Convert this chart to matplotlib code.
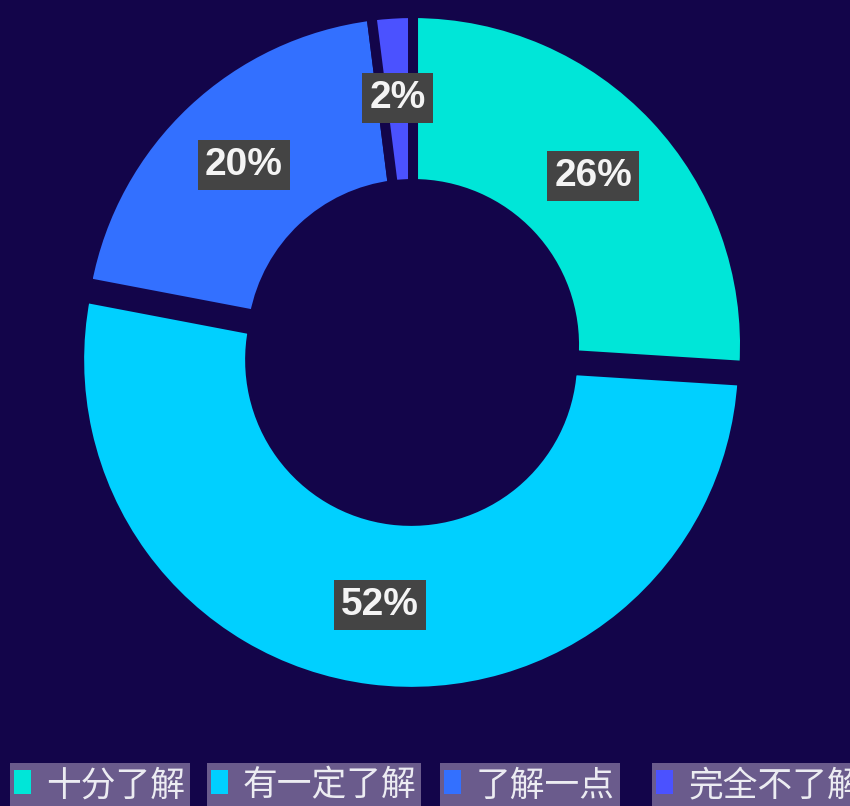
import matplotlib
matplotlib.use('Agg')
import matplotlib.pyplot as plt
from matplotlib.patches import Rectangle

plt.rcParams['font.family'] = ['Noto Sans CJK SC', 'DejaVu Sans']

categories = ['十分了解', '有一定了解', '了解一点', '完全不了解']
values = [26, 52, 20, 2]
colors = ['#00e6d8', '#00d0ff', '#3370ff', '#4b52ff']
explode = [0, 0.045, 0, 0]

bg = '#13054a'
W, H = 850, 806

fig = plt.figure(figsize=(W / 100, H / 100), dpi=100, facecolor=bg)

# donut
ax = fig.add_axes([0.0953, 0.16, 0.7812, 0.8238])
ax.set_facecolor(bg)
wedges, texts, autotexts = ax.pie(
    values, colors=colors, startangle=90, counterclock=False,
    explode=explode, radius=1.0, autopct='%1.0f%%', pctdistance=0.745,
    wedgeprops=dict(width=0.515, edgecolor=bg, linewidth=7.2),
)
for t in autotexts:
    t.set_family(['Liberation Sans', 'DejaVu Sans'])
    t.set_fontsize(28)
    t.set_fontweight('bold')
    t.set_color('#f4f4f4')
    t.set_bbox(dict(boxstyle='square,pad=0.18', fc='#444444', ec='none'))
ax.set_xlim(-1, 1)
ax.set_ylim(-1, 1)
ax.set_aspect('equal')
ax.axis('off')

# legend at the bottom (cut by the image edge)
lg = fig.add_axes([0, 0, 1, 1])
lg.set_xlim(0, W)
lg.set_ylim(H, 0)
lg.axis('off')
box_left = [10, 207, 440, 652]
box_right = [190, 421, 620, 860]
for i, name in enumerate(categories):
    lg.add_patch(Rectangle((box_left[i], 763), box_right[i] - box_left[i], 60,
                           fc='#6a5b8c', ec='none'))
    lg.add_patch(Rectangle((box_left[i] + 4, 770), 17, 24, fc=colors[i], ec='none'))
    lg.text(box_left[i] + 36, 786, name, fontsize=25, color='#ececf2',
            va='center', ha='left')

fig.savefig('out.png', dpi=100, facecolor=bg)
